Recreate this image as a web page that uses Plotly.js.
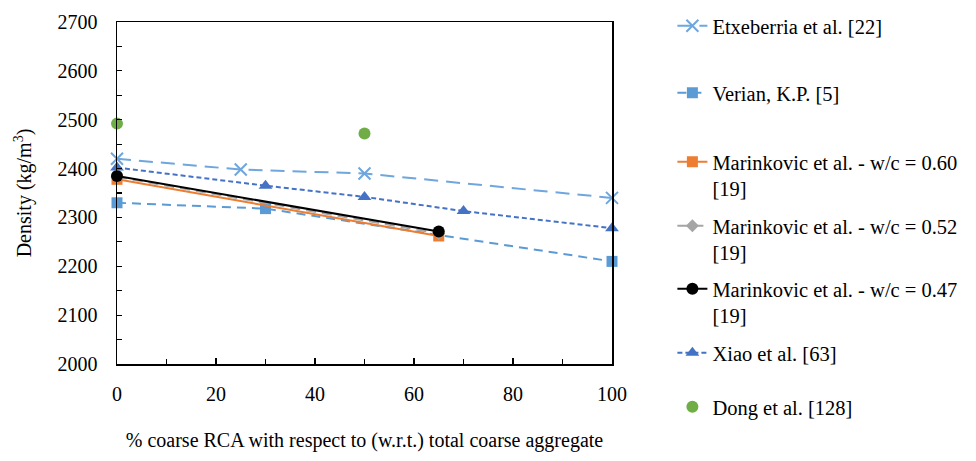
<!DOCTYPE html>
<html>
<head>
<meta charset="utf-8">
<script src="https://cdn.plot.ly/plotly-3.0.1.min.js"></script>
<style>
  html, body { margin: 0; padding: 0; background: #fff; }
  #chart { width: 976px; height: 461px; }
</style>
</head>
<body>
<div id="chart"></div>
<script>
// Density of concrete vs. share of coarse recycled concrete aggregate (RCA)
const etxX = [0, 25, 50, 100];
const etxY = [2420, 2398, 2390, 2340];

const verX = [0, 30, 100];
const verY = [2330, 2318, 2210];

const m60X = [0, 65];
const m60Y = [2378, 2262];

const m52X = [0, 65];
const m52Y = [2383, 2267];

const m47X = [0, 65];
const m47Y = [2385, 2271];

const xiaoX = [0, 30, 50, 70, 100];
const xiaoY = [2402, 2365, 2342, 2313, 2278];

const dongX = [0, 50];
const dongY = [2492, 2472];

const seriesNames = [
  "Etxeberria et al. [22]",
  "Verian, K.P. [5]",
  "Marinkovic et al. - w/c = 0.60<br>[19]",
  "Marinkovic et al. - w/c = 0.52<br>[19]",
  "Marinkovic et al. - w/c = 0.47<br>[19]",
  "Xiao et al. [63]",
  "Dong et al. [128]"
];

const xTickVals = [0, 20, 40, 60, 80, 100];
const yTickVals = [2000, 2100, 2200, 2300, 2400, 2500, 2600, 2700];

const serifFace = "Liberation Serif, Times New Roman, serif";

const traces = [
  {
    x: etxX, y: etxY, name: seriesNames[0], legend: "legend",
    mode: "lines+markers", cliponaxis: false,
    line: { color: "#6EA6DD", width: 2, dash: "14px,8px" },
    marker: { symbol: "x-thin-open", size: 12, line: { color: "#6EA6DD", width: 2 } }
  },
  {
    x: verX, y: verY, name: seriesNames[1], legend: "legend2",
    mode: "lines+markers", cliponaxis: false,
    line: { color: "#5B9BD5", width: 2, dash: "9px,6px" },
    marker: { symbol: "square", size: 11, color: "#5B9BD5" }
  },
  {
    x: m60X, y: m60Y, name: seriesNames[2], legend: "legend3",
    mode: "lines+markers", cliponaxis: false,
    line: { color: "#ED7D31", width: 2 },
    marker: { symbol: "square", size: 11, color: "#ED7D31" }
  },
  {
    x: m52X, y: m52Y, name: seriesNames[3], legend: "legend4",
    mode: "lines+markers", cliponaxis: false,
    line: { color: "#A5A5A5", width: 2, dash: "10px,6px" },
    marker: { symbol: "diamond", size: 10, color: "#A5A5A5" }
  },
  {
    x: m47X, y: m47Y, name: seriesNames[4], legend: "legend5",
    mode: "lines+markers", cliponaxis: false,
    line: { color: "#000000", width: 2 },
    marker: { symbol: "circle", size: 12, color: "#000000" }
  },
  {
    x: xiaoX, y: xiaoY, name: seriesNames[5], legend: "legend6",
    mode: "lines+markers", cliponaxis: false,
    line: { color: "#4472C4", width: 2, dash: "5px,3px" },
    marker: { symbol: "triangle-up", size: 12, color: "#4472C4" }
  },
  {
    x: dongX, y: dongY, name: seriesNames[6], legend: "legend7",
    mode: "markers", cliponaxis: false,
    marker: { symbol: "circle", size: 12, color: "#70AD47" }
  }
];

// one legend box per series so each entry sits in its own row slot
const legendTops = [6, 73, 142, 206, 269, 333, 387];
const plotTop = 22, plotBottom = 364;
function legendAt(topPx) {
  return {
    x: 1.122, xanchor: "left",
    y: (plotBottom - topPx) / (plotBottom - plotTop), yanchor: "top",
    valign: "top",
    bgcolor: "rgba(0,0,0,0)", borderwidth: 0,
    font: { family: serifFace, size: 20.5, color: "#000" },
    itemwidth: 30
  };
}

const layout = {
  width: 976, height: 461,
  margin: { l: 117, r: 364, t: 22, b: 97, autoexpand: false },
  paper_bgcolor: "#fff", plot_bgcolor: "#fff",
  font: { family: serifFace, size: 20, color: "#000" },
  showlegend: true,
  xaxis: {
    range: [0, 100], tickvals: xTickVals, ticktext: xTickVals.map(String),
    showgrid: false, zeroline: false, automargin: false,
    showline: true, linecolor: "#000", linewidth: 1.5, mirror: true,
    ticks: "inside", ticklen: 6, tickcolor: "#000", tickwidth: 1.2,
    minor: { dtick: 10, tick0: 0, ticks: "inside", ticklen: 5, tickcolor: "#000", tickwidth: 1.2 },
    ticklabelstandoff: 11,
    tickfont: { family: serifFace, size: 20, color: "#000" },
    title: { text: "% coarse RCA with respect to (w.r.t.) total coarse aggregate",
             font: { family: serifFace, size: 20, color: "#000" }, standoff: 29 }
  },
  yaxis: {
    range: [2000, 2700], tickvals: yTickVals, ticktext: yTickVals.map(String),
    showgrid: false, zeroline: false, automargin: false,
    showline: true, linecolor: "#000", linewidth: 1.5, mirror: true,
    ticks: "inside", ticklen: 5, tickcolor: "#000", tickwidth: 1.2,
    minor: { dtick: 50, tick0: 2000, ticks: "inside", ticklen: 5, tickcolor: "#000", tickwidth: 1.2 },
    ticklabelstandoff: 14,
    tickfont: { family: serifFace, size: 20, color: "#000" },
    title: { text: "Density (kg/m<sup>3</sup>)",
             font: { family: serifFace, size: 20, color: "#000" }, standoff: 20 }
  },
  legend: legendAt(legendTops[0]),
  legend2: legendAt(legendTops[1]),
  legend3: legendAt(legendTops[2]),
  legend4: legendAt(legendTops[3]),
  legend5: legendAt(legendTops[4]),
  legend6: legendAt(legendTops[5]),
  legend7: legendAt(legendTops[6])
};

Plotly.newPlot("chart", traces, layout, { displayModeBar: false, staticPlot: true });
</script>
</body>
</html>
